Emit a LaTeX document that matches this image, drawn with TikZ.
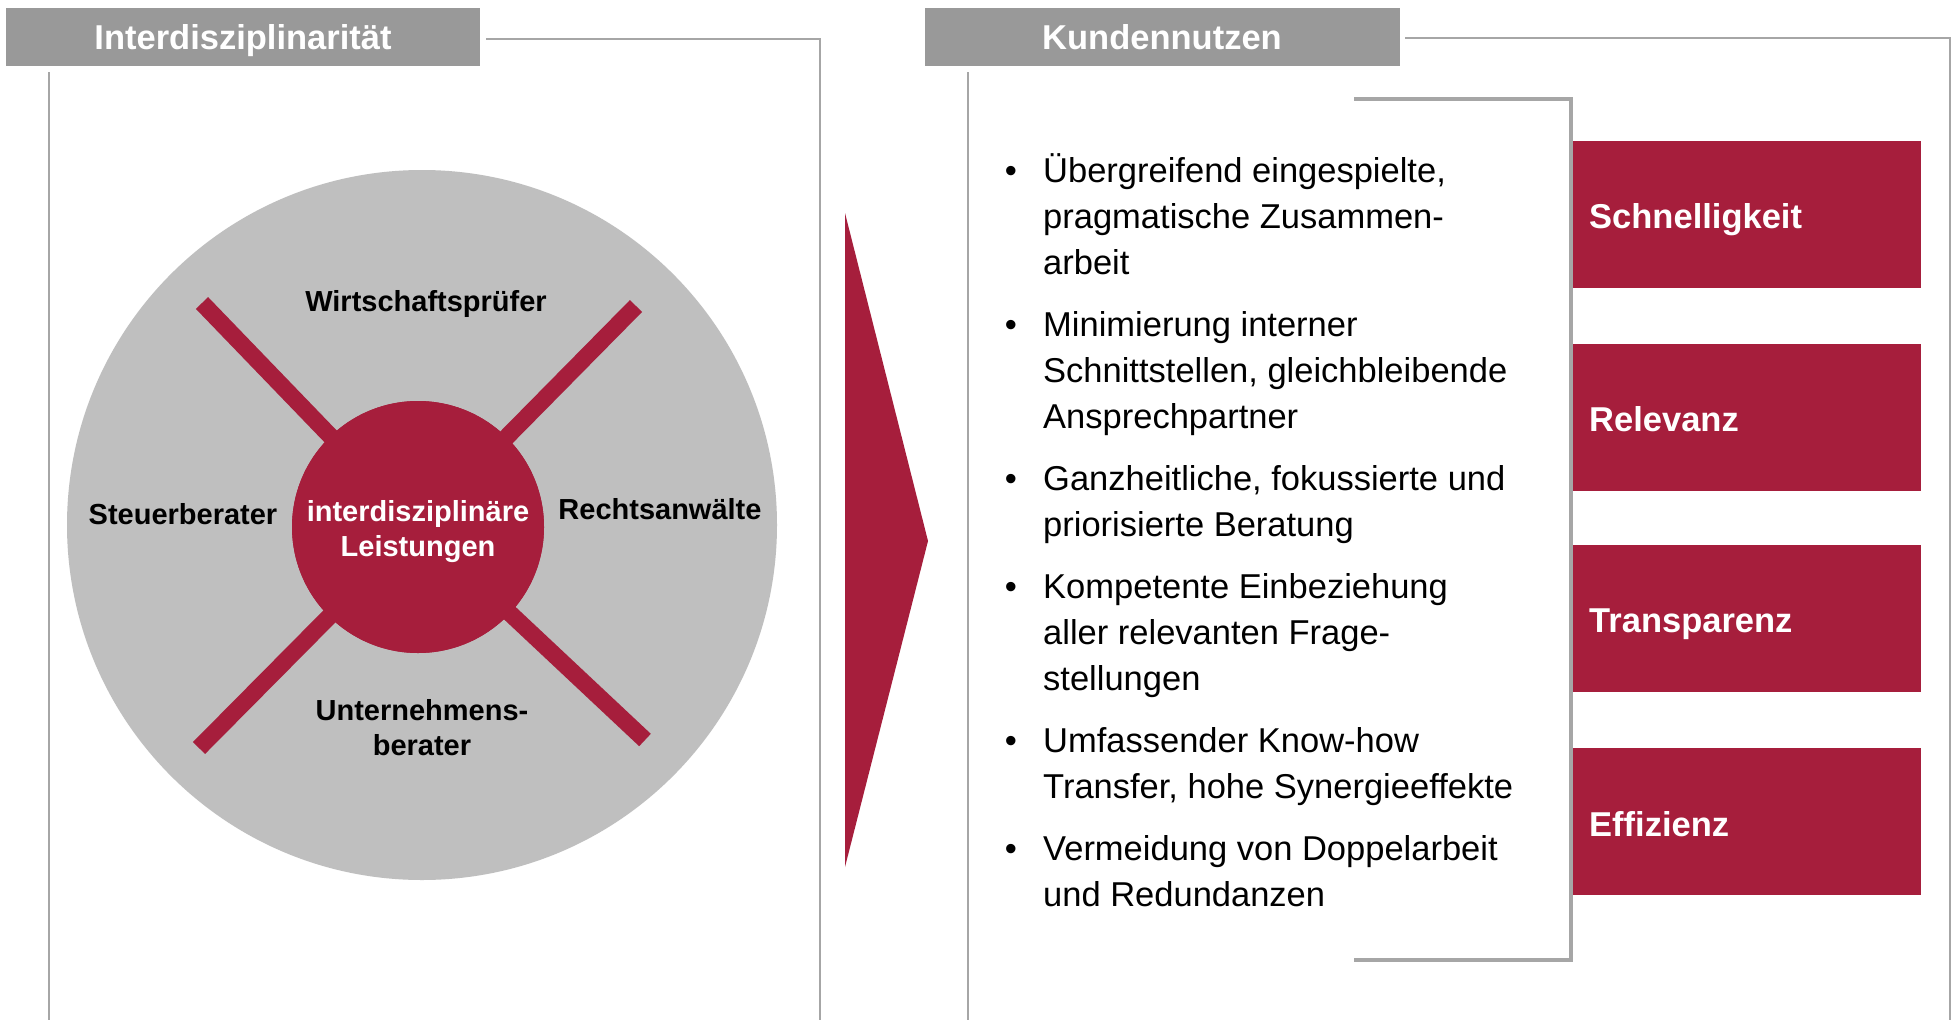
\documentclass[tikz,border=0pt]{standalone}
\usepackage{fontspec}
\setmainfont{Liberation Sans}
\definecolor{brand}{HTML}{A61E3C}
\definecolor{hdr}{HTML}{999999}
\definecolor{frame}{HTML}{A6A6A6}
\definecolor{disc}{HTML}{BFBFBF}
\tikzset{
  hdrbox/.style={fill=hdr, draw=none, text=white, font=\fontsize{34.5}{40}\selectfont\bfseries, text height=26pt, text depth=2pt},
  frameline/.style={draw=frame, line width=2pt},
  bracketline/.style={draw=frame, line width=4pt},
  redbox/.style={fill=brand, draw=none},
  redlabel/.style={text=white, font=\fontsize{34.5}{40}\selectfont\bfseries, anchor=west, inner sep=0pt},
  circlabel/.style={text=black, font=\fontsize{29}{35}\selectfont\bfseries, align=center, inner sep=0pt},
  bar/.style={draw=brand, line width=17pt},
  bulletdot/.style={font=\fontsize{34.5}{46}\selectfont, anchor=base, inner sep=0pt},
  bullettext/.style={font=\fontsize{34.5}{46}\selectfont, anchor=base west, inner sep=0pt},
}
\newcommand{\itemlines}[1]{\parbox[t]{600pt}{\raggedright\baselineskip=46pt #1}}
\begin{document}
\begin{tikzpicture}[x=1pt,y=-1pt]
\useasboundingbox (0,0) rectangle (1952,1020);
\fill[white] (0,0) rectangle (1952,1020);

% ---------- left panel ----------
\node[hdrbox, minimum width=474pt, minimum height=58pt, inner sep=0pt] (h1) at (243,37) {Interdisziplinarität};
\coordinate (h1r) at (486,39);
\coordinate (h1c) at (820,39);
\coordinate (h1b) at (820,1020);
\draw[frameline] (h1r) -- (h1c) -- (h1b);
\coordinate (l1t) at (49,72);
\coordinate (l1b) at (49,1020);
\draw[frameline] (l1t) -- (l1b);

\node[circle, fill=disc, minimum size=710pt, inner sep=0pt] (disc) at (422,525) {};
\node[circle, fill=brand, minimum size=252pt, inner sep=0pt] (core) at (418,527) {};
\coordinate (ul) at (202,303);
\coordinate (ur) at (636,306);
\coordinate (ll) at (199,748);
\coordinate (lr) at (645,740);
\draw[bar] (core.center) -- (ul);
\draw[bar] (core.center) -- (ur);
\draw[bar] (core.center) -- (ll);
\draw[bar] (core.center) -- (lr);
\node[circle, fill=brand, minimum size=252pt, inner sep=0pt] (core2) at (418,527) {};
\node[circlabel, text=white] (coretext) at (418,532) {interdisziplinäre\\Leistungen};

\node[circlabel] (wp) at (426,304) {Wirtschaftsprüfer};
\node[circlabel] (sb) at (183,514) {Steuerberater};
\node[circlabel] (ra) at (660,509) {Rechtsanwälte};
\node[circlabel] (ub) at (422,728) {Unternehmens-\\berater};

% ---------- chevron ----------
\coordinate (chA) at (845,213);
\coordinate (chB) at (928,541);
\coordinate (chC) at (845,867);
\fill[brand] (chA) -- (chB) -- (chC) -- cycle;

% ---------- right panel ----------
\node[hdrbox, minimum width=475pt, minimum height=58pt, inner sep=0pt] (h2) at (1162,37) {Kundennutzen};
\coordinate (h2r) at (1405,38);
\coordinate (h2c) at (1950,38);
\coordinate (h2b) at (1950,1020);
\draw[frameline] (h2r) -- (h2c) -- (h2b);
\coordinate (l2t) at (968,72);
\coordinate (l2b) at (968,1020);
\draw[frameline] (l2t) -- (l2b);

\coordinate (brA) at (1354,99);
\coordinate (brB) at (1571,99);
\coordinate (brC) at (1571,960);
\coordinate (brD) at (1354,960);
\draw[bracketline] (brA) -- (brB) -- (brC) -- (brD);

\node[redbox, anchor=north west, minimum width=348pt, minimum height=147pt, inner sep=0pt] (r1) at (1573,141) {};
\node[redbox, anchor=north west, minimum width=348pt, minimum height=147pt, inner sep=0pt] (r2) at (1573,344) {};
\node[redbox, anchor=north west, minimum width=348pt, minimum height=147pt, inner sep=0pt] (r3) at (1573,545) {};
\node[redbox, anchor=north west, minimum width=348pt, minimum height=147pt, inner sep=0pt] (r4) at (1573,748) {};
\node[redlabel] (t1) at (1589,220) {Schnelligkeit};
\node[redlabel] (t2) at (1589,419) {Relevanz};
\node[redlabel] (t3) at (1589,624) {Transparenz};
\node[redlabel] (t4) at (1589,824) {Effizienz};

% bullets
\node[bulletdot] (d1) at (1011,182) {•};
\node[bullettext] (i1) at (1043,182) {\itemlines{Übergreifend eingespielte,\\pragmatische Zusammen-\\arbeit}};
\node[bulletdot] (d2) at (1011,336) {•};
\node[bullettext] (i2) at (1043,336) {\itemlines{Minimierung interner\\Schnittstellen, gleichbleibende\\Ansprechpartner}};
\node[bulletdot] (d3) at (1011,490) {•};
\node[bullettext] (i3) at (1043,490) {\itemlines{Ganzheitliche, fokussierte und\\priorisierte Beratung}};
\node[bulletdot] (d4) at (1011,598) {•};
\node[bullettext] (i4) at (1043,598) {\itemlines{Kompetente Einbeziehung\\aller relevanten Frage-\\stellungen}};
\node[bulletdot] (d5) at (1011,752) {•};
\node[bullettext] (i5) at (1043,752) {\itemlines{Umfassender Know-how\\Transfer, hohe Synergieeffekte}};
\node[bulletdot] (d6) at (1011,860) {•};
\node[bullettext] (i6) at (1043,860) {\itemlines{Vermeidung von Doppelarbeit\\und Redundanzen}};
\end{tikzpicture}
\end{document}
